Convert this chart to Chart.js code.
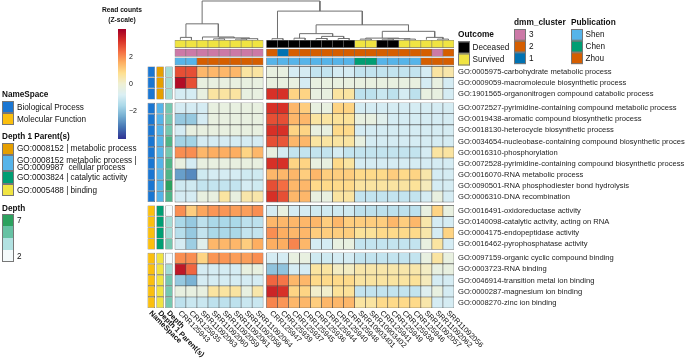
<!DOCTYPE html>
<html>
<head>
<meta charset="utf-8">
<script src="https://cdn.jsdelivr.net/npm/chart.js@4.4.1/dist/chart.umd.min.js"></script>
<style>
  html, body { margin: 0; padding: 0; background: #fff; }
</style>
</head>
<body>
<canvas id="heatmap" width="685" height="358"></canvas>
<script>
// ---- data ----
const colLabels = ['CRR125943', 'CRR125935', 'SRR11092063', 'SRR11092060', 'SRR11092059', 'SRR11092061', 'SRR11092058', 'SRR11092064',
  'CRR125947', 'CRR125939', 'CRR125937', 'CRR125945', 'CRR125936', 'CRR125944', 'CRR125940', 'CRR125948',
  'SRR10903401', 'SRR10903402', 'CRR125941', 'CRR125949', 'CRR125938', 'CRR125946', 'SRR11092057', 'SRR11092062', 'SRR11092056'];
const colGroups = [8, 17];

const rowLabels = [
  'GO:0005975-carbohydrate metabolic process',
  'GO:0009059-macromolecule biosynthetic process',
  'GO:1901565-organonitrogen compound catabolic process',
  'GO:0072527-pyrimidine-containing compound metabolic process',
  'GO:0019438-aromatic compound biosynthetic process',
  'GO:0018130-heterocycle biosynthetic process',
  'GO:0034654-nucleobase-containing compound biosynthetic process',
  'GO:0016310-phosphorylation',
  'GO:0072528-pyrimidine-containing compound biosynthetic process',
  'GO:0016070-RNA metabolic process',
  'GO:0090501-RNA phosphodiester bond hydrolysis',
  'GO:0006310-DNA recombination',
  'GO:0016491-oxidoreductase activity',
  'GO:0140098-catalytic activity, acting on RNA',
  'GO:0004175-endopeptidase activity',
  'GO:0016462-pyrophosphatase activity',
  'GO:0097159-organic cyclic compound binding',
  'GO:0003723-RNA binding',
  'GO:0046914-transition metal ion binding',
  'GO:0000287-magnesium ion binding',
  'GO:0008270-zinc ion binding'
];
const rowGroups = [3, 9, 4, 5];

// z-scored read counts, one row per GO term, columns in the order above
const zscores = [
  [2.8, 2.8, 1.45, 1.45, 1.45, 1.45, 0.6, 0.6, -0.3, -0.3, -0.9, -0.9, -1.2, -1.2, -0.9, -0.9, -1.2, -1.2, -1.2, -1.2, -1.2, -1.2, -0.9, 0.6, 0.5],
  [3.8, 2.8, -0.3, -0.3, -0.3, -0.3, -0.3, -0.3, -0.3, -0.3, -0.3, -0.9, -0.3, -0.3, -0.3, -0.3, -0.3, -0.3, -0.3, -0.3, -0.3, -0.3, -0.9, -0.3, -0.9],
  [-0.9, -0.9, -0.3, 0.6, 0.6, 0.6, -0.3, -0.3, 3.2, 3.2, 1.0, 1.0, -0.3, -0.3, 0.6, 0.6, -1.3, -1.3, -1.1, -1.3, -0.9, -1.3, -0.3, -0.3, -0.9],
  [-0.9, -0.9, -0.9, -0.3, -0.3, -0.3, -0.3, -0.3, 3.2, 3.2, 1.45, 1.1, -0.3, -0.3, 1.0, 1.0, -0.9, -0.9, -0.9, -0.9, -0.9, -0.9, -0.9, -0.9, -0.9],
  [-1.9, -1.9, -0.9, -0.3, -0.3, -0.3, -0.3, -0.3, 2.8, 2.8, 1.45, 1.45, 0.6, 0.6, 0.7, 0.7, -0.3, -0.3, -0.6, -0.9, -0.9, -0.9, -0.9, -0.9, -0.9],
  [-0.9, -0.3, -0.3, -0.3, -0.3, -0.3, -0.3, -0.3, 3.2, 3.2, 1.0, 1.0, -0.3, -0.3, 0.9, 0.9, -0.9, -0.9, -0.9, -0.9, -0.9, -0.9, -0.9, -0.9, -0.9],
  [-1.7, -1.7, -0.9, -0.9, -0.9, -0.9, -0.9, -0.9, 2.8, 2.7, 1.45, 1.45, 0.6, 0.6, 0.6, 0.6, -0.3, -0.9, -0.9, -0.9, -0.9, -0.9, -0.9, -0.9, -0.9],
  [2.0, 2.0, 1.45, 1.6, 1.6, 1.6, 1.0, 1.45, -0.3, -0.9, -1.2, -1.2, -1.2, -1.2, -0.9, -1.2, -1.2, -1.2, -1.2, -1.2, -1.2, -1.2, -0.9, 0.6, 0.6],
  [-0.3, -0.9, -0.3, -0.3, -0.3, -0.3, -0.3, -0.3, 3.2, 3.2, 1.0, 1.0, -0.3, -0.3, 0.9, 0.6, -0.9, -0.9, -0.9, -0.9, -0.9, -0.9, -0.9, -0.9, -0.9],
  [-2.6, -2.9, -1.0, -0.9, -0.9, -0.9, -1.0, -1.0, 1.45, 1.45, 1.45, 1.1, 1.45, 1.1, 1.1, 1.1, 0.9, 0.9, 0.9, 1.1, 0.9, 1.0, 0.5, -0.9, -0.9],
  [-1.0, -1.0, -1.2, -1.2, -1.2, -1.2, -0.9, -1.0, 2.8, 2.4, 1.45, 1.45, 0.9, 0.9, 0.9, 0.9, 0.6, 0.6, 0.6, 0.6, 0.6, 0.7, 0.3, -0.9, -0.9],
  [-0.9, -0.9, -0.3, -0.3, 0.6, -0.3, 0.5, 0.5, 3.2, 2.8, 1.45, 1.45, -0.3, -0.3, 0.6, 0.6, -1.2, -1.2, -1.2, -1.2, -1.2, -1.2, -0.9, -0.3, -0.9],
  [2.0, 1.1, 1.7, 1.9, 1.9, 1.8, 1.8, 2.0, -0.9, -0.3, -0.9, -0.9, -1.0, -1.0, -1.0, -1.0, -1.3, -1.3, -1.3, -1.3, -1.3, -1.3, -0.3, 1.0, -0.3],
  [-1.6, -1.9, -1.3, -1.6, -1.6, -1.6, -1.3, -1.3, 1.45, 1.45, 1.45, 1.45, 1.45, 1.1, 1.45, 1.1, 1.1, 1.1, 1.1, 1.45, 1.1, 1.45, 0.5, -0.9, -0.9],
  [-1.4, -1.9, -1.2, -1.6, -1.6, -1.6, -1.2, -1.2, 2.0, 1.6, 1.45, 1.45, 1.1, 1.1, 1.1, 1.1, 0.7, 0.7, 0.9, 0.9, 0.9, 0.9, 0.5, -0.9, 1.0],
  [-0.9, -1.8, -0.6, 1.45, 1.45, 1.45, 1.1, 1.6, 1.6, 1.6, 2.1, 1.45, -0.9, -0.9, -0.3, -0.3, -1.2, -1.2, -1.2, -1.2, -1.2, -1.2, -0.3, 0.6, -0.9],
  [2.0, 2.0, 1.0, 1.9, 1.9, 1.8, 1.8, 2.0, -0.9, -0.9, -0.3, -0.3, -1.0, -1.0, -0.9, -0.9, -1.2, -1.2, -1.2, -1.2, -1.2, -1.2, -0.3, 0.6, -0.3],
  [3.6, 2.5, -0.9, -0.9, -0.9, -0.9, -0.3, -0.3, -2.0, -2.0, -0.9, -0.9, 0.6, 0.6, 0.2, 0.2, 0.5, 0.5, 0.5, 0.5, 0.5, 0.5, 0.2, -0.3, -0.3],
  [-1.9, -2.3, -0.9, -0.9, -0.9, -0.9, -0.9, -0.9, 2.5, 2.3, 1.45, 1.45, 0.9, 0.9, 0.9, 0.9, 0.6, 0.6, 0.6, 0.6, 0.6, 0.7, 0.3, -0.9, -0.9],
  [-0.3, -0.3, -0.3, 0.6, 0.6, 0.6, -0.3, 0.5, 3.4, 3.2, 1.0, 1.0, 0.1, 0.1, 0.7, 0.7, -1.2, -1.2, -1.2, -1.2, -1.2, -1.2, -0.7, -0.3, -0.9],
  [-1.3, -1.1, -1.1, -1.3, -1.3, -1.3, -1.1, -1.1, 2.1, 1.9, 1.45, 1.45, 1.1, 1.45, 1.45, 1.45, 0.6, 0.6, 0.9, 0.9, 0.9, 0.9, 0.5, -0.9, -0.9]
];

// column annotations
const outcome = ['Survived', 'Survived', 'Survived', 'Survived', 'Survived', 'Survived', 'Survived', 'Survived',
  'Deceased', 'Deceased', 'Deceased', 'Deceased', 'Deceased', 'Deceased', 'Deceased', 'Deceased',
  'Survived', 'Survived', 'Deceased', 'Deceased', 'Survived', 'Survived', 'Survived', 'Survived', 'Survived'];
const dmmCluster = [3, 3, 3, 3, 3, 3, 3, 3, 2, 1, 2, 2, 2, 2, 2, 2, 2, 2, 2, 2, 2, 2, 2, 3, 2];
const publication = ['Shen', 'Shen', 'Zhou', 'Zhou', 'Zhou', 'Zhou', 'Zhou', 'Zhou',
  'Shen', 'Shen', 'Shen', 'Shen', 'Shen', 'Shen', 'Shen', 'Shen',
  'Chen', 'Chen', 'Shen', 'Shen', 'Shen', 'Shen', 'Zhou', 'Zhou', 'Zhou'];

// row annotations
const BP = 'Biological Process', MF = 'Molecular Function';
const nameSpace = [BP, BP, BP, BP, BP, BP, BP, BP, BP, BP, BP, BP, MF, MF, MF, MF, MF, MF, MF, MF, MF];
const P_MET = 'GO:0008152 | metabolic process';
const P_MC = 'GO:0008152 metabolic process | GO:0009987  cellular process';
const P_CAT = 'GO:0003824 | catalytic activity';
const P_BIND = 'GO:0005488 | binding';
const depthParent = [P_MET, P_MET, P_MET, P_MC, P_MC, P_MC, P_MC, P_MC, P_MC, P_MC, P_MC, P_MC,
  P_CAT, P_CAT, P_CAT, P_CAT, P_BIND, P_BIND, P_BIND, P_BIND, P_BIND];
const depth = [4, 4, 4, 5, 5, 5, 6, 5, 6, 6, 7, 6, 2, 4, 4, 5, 2, 4, 5, 5, 5];

// column dendrogram, hclust style: negative = leaf (1-based column), positive = earlier merge
const dendroMerges = [
  [-4, -5], [-6, -7], [2, -8], [1, 3], [-3, 4], [-1, -2], [6, 5],
  [-9, -10], [-11, -12], [-13, -14], [-15, -16], [10, 11], [9, 12],
  [-17, -18], [-19, -20], [-21, -22], [15, 16], [14, 17], [-24, -25], [-23, 19],
  [18, 20], [13, 21], [8, 22], [7, 23]
];
const dendroHeights = [0.8, 0.6, 1.0, 1.8, 2.7, 2.3, 15.7, 1.0, 1.5, 1.2, 1.2, 3.3, 6.0,
  0.6, 0.6, 0.6, 1.0, 1.6, 0.6, 2.3, 8.3, 14.7, 28.3, 38.3];

// ---- colours ----
const rdylbu = ['#313695', '#4575b4', '#74add1', '#abd9e9', '#dbeff4', '#eff0d4', '#fee090', '#fdae61', '#f46d43', '#d73027', '#a50026'];
const zStops = rdylbu.map((_, i) => -4 + i * 0.8);
const depthStops = [2, 3.67, 5.33, 7];
const depthCols = ['#f4fafb', '#b2e2e2', '#66c2a4', '#2ca25f'];
const outcomeColors = { Deceased: '#000000', Survived: '#f0e442' };
const dmmColors = { 3: '#cc79a7', 2: '#d55e00', 1: '#0072b2' };
const pubColors = { Shen: '#56b4e9', Chen: '#009e73', Zhou: '#d55e00' };
const nsColors = { [BP]: '#1a76d2', [MF]: '#fbbf0e' };
const parentColors = { [P_MET]: '#e69f00', [P_MC]: '#56b4e9', [P_CAT]: '#009e73', [P_BIND]: '#f0e442' };

function hexToRgb(h) { const n = parseInt(h.slice(1), 16); return [n >> 16 & 255, n >> 8 & 255, n & 255]; }
function ramp(stops, colors, v) {
  if (v <= stops[0]) return colors[0];
  if (v >= stops[stops.length - 1]) return colors[colors.length - 1];
  let i = 0;
  while (v > stops[i + 1]) i++;
  const t = (v - stops[i]) / (stops[i + 1] - stops[i]);
  const a = hexToRgb(colors[i]), b = hexToRgb(colors[i + 1]);
  return 'rgb(' + a.map((x, k) => Math.round(x + (b[k] - x) * t)).join(',') + ')';
}
const zColor = z => ramp(zStops, rdylbu, z);
const depthColor = d => ramp(depthStops, depthCols, d);

// ---- layout in scale units (1 unit = one cell) ----
const colGap = 0.3, rowGap = 0.3;
function colCenter(c) { return c + 0.5 + (c >= colGroups[0] ? colGap : 0); }
function rowGroupOf(r) {
  let acc = 0;
  for (let g = 0; g < rowGroups.length; g++) { acc += rowGroups[g]; if (r < acc) return g; }
  return rowGroups.length - 1;
}
function rowTop(r) { return r + rowGroupOf(r) * rowGap; }
const heatRight = colCenter(colLabels.length - 1) + 0.5;
const heatBottom = rowTop(rowLabels.length - 1) + 1;
const xMin = -2.62;
const yMin = -6.02;

const cellData = [], cellColors = [];
zscores.forEach((row, r) => row.forEach((z, c) => {
  cellData.push({ x: colCenter(c), y: [rowTop(r), rowTop(r) + 1] });
  cellColors.push(zColor(z));
}));

// top annotation tracks (Outcome on top, Publication next to the heatmap)
const topTracks = [
  { values: outcome, colors: outcomeColors },
  { values: dmmCluster, colors: dmmColors },
  { values: publication, colors: pubColors }
];
const topData = [], topColors = [];
topTracks.forEach((t, k) => {
  const mid = -0.45 - (topTracks.length - 1 - k) * 0.795;
  t.values.forEach((v, c) => {
    topData.push({ x: colCenter(c), y: [mid - 0.33, mid + 0.33] });
    topColors.push(t.colors[v]);
  });
});

// left annotation tracks
const leftTracks = [
  { name: 'NameSpace', color: r => nsColors[nameSpace[r]] },
  { name: 'Depth 1 Parent(s)', color: r => parentColors[depthParent[r]] },
  { name: 'Depth', color: r => depthColor(depth[r]) }
];
const annX = k => -0.54 - (leftTracks.length - 1 - k) * 0.8;
const leftData = [], leftColors = [];
leftTracks.forEach((t, k) => {
  rowLabels.forEach((_, r) => {
    leftData.push({ x: annX(k), y: [rowTop(r), rowTop(r) + 1] });
    leftColors.push(t.color(r));
  });
});

// dendrogram segments
const dendroBase = -2.42, dendroScale = (5.93 - 2.42) / 38.3;
const nodePos = [];
const dendroLine = [];
function nodeInfo(id) {
  if (id < 0) return { x: colCenter(-id - 1), h: 0 };
  return nodePos[id - 1];
}
dendroMerges.forEach(([a, b], i) => {
  const A = nodeInfo(a), B = nodeInfo(b), h = dendroHeights[i];
  const y = dendroBase - h * dendroScale;
  dendroLine.push({ x: A.x, y: dendroBase - A.h * dendroScale }, { x: A.x, y: y },
    { x: B.x, y: y }, { x: B.x, y: dendroBase - B.h * dendroScale }, { x: B.x, y: null });
  nodePos.push({ x: (A.x + B.x) / 2, h: h });
});

// ---- legends & rotated labels ----
const FONT = '"Liberation Sans", Arial, sans-serif';
function box(ctx, x, y, w, h, color) {
  ctx.fillStyle = color;
  ctx.fillRect(x, y, w, h);
  ctx.strokeStyle = '#777';
  ctx.lineWidth = 1;
  ctx.strokeRect(x + 0.5, y + 0.5, w - 1, h - 1);
}
function text(ctx, s, x, y, size, bold, align) {
  ctx.font = (bold ? 'bold ' : '') + size + 'px ' + FONT;
  ctx.fillStyle = '#111';
  ctx.textAlign = align || 'left';
  ctx.textBaseline = 'middle';
  ctx.fillText(s, x, y);
}

const extrasPlugin = {
  id: 'extras',
  afterDraw(chart) {
    const ctx = chart.ctx, xs = chart.scales.x, xa = chart.scales.xa, area = chart.chartArea;
    ctx.save();

    // column names
    colLabels.forEach((lab, c) => {
      ctx.save();
      ctx.translate(xs.getPixelForValue(colCenter(c)) - 1, area.bottom + 4);
      ctx.rotate(Math.PI / 4);
      text(ctx, lab, 0, 0, 7.5, false);
      ctx.restore();
    });
    leftTracks.forEach((t, k) => {
      ctx.save();
      ctx.translate(xa.getPixelForValue(annX(k)) - 1, area.bottom + 4);
      ctx.rotate(Math.PI / 4);
      text(ctx, t.name, 0, 0, 7.5, true);
      ctx.restore();
    });

    // colour bar
    text(ctx, 'Read counts', 122, 10, 6.7, true, 'center');
    text(ctx, '(Z-scale)', 122, 20, 6.7, true, 'center');
    const barTop = 29, barBot = 139, zTop = 4.07;
    for (let py = barTop; py < barBot; py++) {
      const z = zTop - (py + 0.5 - barTop) / (barBot - barTop) * 2 * zTop;
      ctx.fillStyle = zColor(z);
      ctx.fillRect(118, py, 8, 1);
    }
    [2, 0, -2].forEach(v => {
      const py = barTop + (zTop - v) / (2 * zTop) * (barBot - barTop);
      text(ctx, v < 0 ? '\u2212' + Math.abs(v) : String(v), 129, py, 7, false);
    });

    // NameSpace
    text(ctx, 'NameSpace', 2, 95, 8.2, true);
    [[BP, 101], [MF, 113]].forEach(([k, y]) => { box(ctx, 2, y, 12, 12, nsColors[k]); text(ctx, k, 17, y + 6.5, 8.2, false); });

    // Depth 1 Parent(s)
    text(ctx, 'Depth 1 Parent(s)', 2, 137, 8.2, true);
    box(ctx, 2, 143, 12, 12, parentColors[P_MET]);
    text(ctx, P_MET, 17, 149, 8.2, false);
    box(ctx, 2, 155, 12, 16, parentColors[P_MC]);
    text(ctx, 'GO:0008152 metabolic process |', 17, 160.5, 8.2, false);
    text(ctx, 'GO:0009987  cellular process', 17, 167.5, 8.2, false);
    box(ctx, 2, 171, 12, 13, parentColors[P_CAT]);
    text(ctx, P_CAT, 17, 178, 8.2, false);
    box(ctx, 2, 184, 12, 12, parentColors[P_BIND]);
    text(ctx, P_BIND, 17, 190.5, 8.2, false);

    // Depth
    text(ctx, 'Depth', 2, 209, 8.2, true);
    [7, 5.33, 3.67, 2].forEach((d, i) => {
      ctx.fillStyle = depthColor(d);
      ctx.fillRect(2, 214 + i * 12, 12, 12);
    });
    ctx.strokeStyle = '#777';
    ctx.strokeRect(2.5, 214.5, 11, 47);
    text(ctx, '7', 17, 220.5, 8.2, false);
    text(ctx, '2', 17, 256.5, 8.2, false);

    // Outcome
    text(ctx, 'Outcome', 458, 35, 8.3, true);
    box(ctx, 458, 41.5, 12, 12, outcomeColors.Deceased);
    text(ctx, 'Deceased', 472.5, 47.5, 8.2, false);
    box(ctx, 458, 53.5, 12, 12, outcomeColors.Survived);
    text(ctx, 'Survived', 472.5, 59.5, 8.2, false);

    // dmm_cluster
    text(ctx, 'dmm_cluster', 514, 23, 8.3, true);
    [3, 2, 1].forEach((k, i) => {
      box(ctx, 514, 29 + i * 11.7, 12, 11.7, dmmColors[k]);
      text(ctx, String(k), 529, 35 + i * 11.7, 8.2, false);
    });

    // Publication
    text(ctx, 'Publication', 571, 23, 8.3, true);
    ['Shen', 'Chen', 'Zhou'].forEach((k, i) => {
      box(ctx, 571, 29 + i * 11.7, 12, 11.7, pubColors[k]);
      text(ctx, k, 585.5, 35 + i * 11.7, 8.2, false);
    });

    ctx.restore();
  }
};

new Chart(document.getElementById('heatmap'), {
  type: 'bar',
  data: {
    datasets: [
      {
        label: 'heatmap', data: cellData, backgroundColor: cellColors,
        borderColor: 'rgba(40,40,40,0.75)', borderWidth: 0.6, borderSkipped: false,
        barPercentage: 1, categoryPercentage: 1, grouped: false
      },
      {
        label: 'column annotations', data: topData, backgroundColor: topColors,
        borderColor: 'rgba(90,90,90,0.8)', borderWidth: 0.6, borderSkipped: false,
        barPercentage: 1, categoryPercentage: 1, grouped: false
      },
      {
        label: 'row annotations', data: leftData, backgroundColor: leftColors, xAxisID: 'xa',
        borderColor: 'rgba(40,40,40,0.75)', borderWidth: 0.6, borderSkipped: false,
        barPercentage: 0.85, categoryPercentage: 1, grouped: false
      },
      {
        type: 'line', label: 'dendrogram', data: dendroLine,
        borderColor: '#6f6f6f', borderWidth: 1, pointRadius: 0, tension: 0, spanGaps: false, fill: false
      }
    ]
  },
  options: {
    responsive: false,
    animation: false,
    layout: { padding: { left: 146, right: 0, top: 0, bottom: 50 } },
    plugins: { legend: { display: false }, tooltip: { enabled: false } },
    scales: {
      x: { type: 'linear', min: xMin, max: heatRight, display: false, offset: false },
      xa: { type: 'linear', min: xMin, max: heatRight, display: false, offset: false },
      y: {
        type: 'linear', min: yMin, max: heatBottom, reverse: true, position: 'right', offset: false,
        grid: { display: false, drawTicks: false }, border: { display: false },
        afterBuildTicks: axis => { axis.ticks = rowLabels.map((_, r) => ({ value: rowTop(r) + 0.5 })); },
        afterFit: axis => { axis.width = 231; axis.paddingTop = 0; axis.paddingBottom = 0; },
        ticks: {
          autoSkip: false, padding: 4, color: '#222',
          font: { family: FONT, size: 7.6 },
          callback: (v, i) => rowLabels[i]
        }
      }
    }
  },
  plugins: [extrasPlugin]
});
</script>
</body>
</html>
